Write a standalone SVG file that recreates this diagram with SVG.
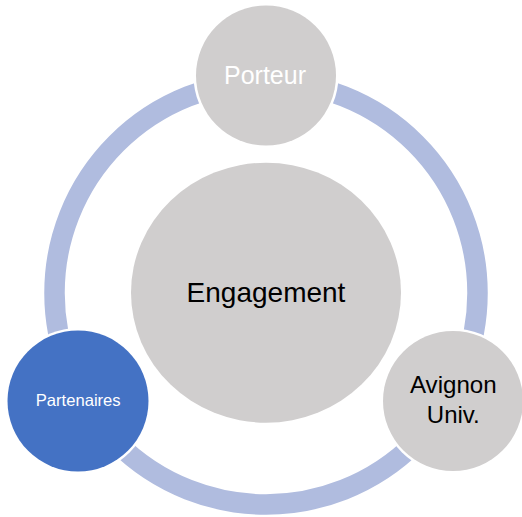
<svg xmlns="http://www.w3.org/2000/svg" width="522" height="517" viewBox="0 0 522 517">
<style>
.halo{fill:#FFFFFF}
.gray{fill:#D0CECE}
.blue{fill:#4472C4}
.t{font-family:"Liberation Sans",Arial,sans-serif;text-anchor:middle}
</style>
<rect x="0" y="0" width="522" height="517" fill="#FFFFFF"/>
<g id="connectors">
<circle cx="266" cy="293" r="211.5" fill="none" stroke="#B0BCDF" stroke-width="20.5"/>
</g>
<g id="engagement">
<ellipse cx="266" cy="292.7" rx="135" ry="130" class="gray"/>
<text x="266" y="302.3" class="t" font-size="28" fill="#000000">Engagement</text>
</g>
<g id="porteur">
<circle cx="266" cy="75.5" r="72.5" class="halo"/>
<circle cx="266" cy="75.5" r="70" class="gray"/>
<text x="265" y="84.3" class="t" font-size="25" fill="#FFFFFF" textLength="82" lengthAdjust="spacingAndGlyphs">Porteur</text>
</g>
<g id="avignon">
<circle cx="453" cy="401" r="72.5" class="halo"/>
<circle cx="453" cy="401" r="70" class="gray"/>
<text x="453.3" y="393.3" class="t" font-size="24" fill="#000000" textLength="86.7" lengthAdjust="spacingAndGlyphs">Avignon</text>
<text x="453.3" y="423.3" class="t" font-size="24" fill="#000000">Univ.</text>
</g>
<g id="partenaires">
<circle cx="78" cy="401" r="73" class="halo"/>
<circle cx="78" cy="401" r="70.5" class="blue"/>
<text x="78.2" y="405.7" class="t" font-size="16.5" fill="#FFFFFF" textLength="85" lengthAdjust="spacingAndGlyphs">Partenaires</text>
</g>
</svg>
